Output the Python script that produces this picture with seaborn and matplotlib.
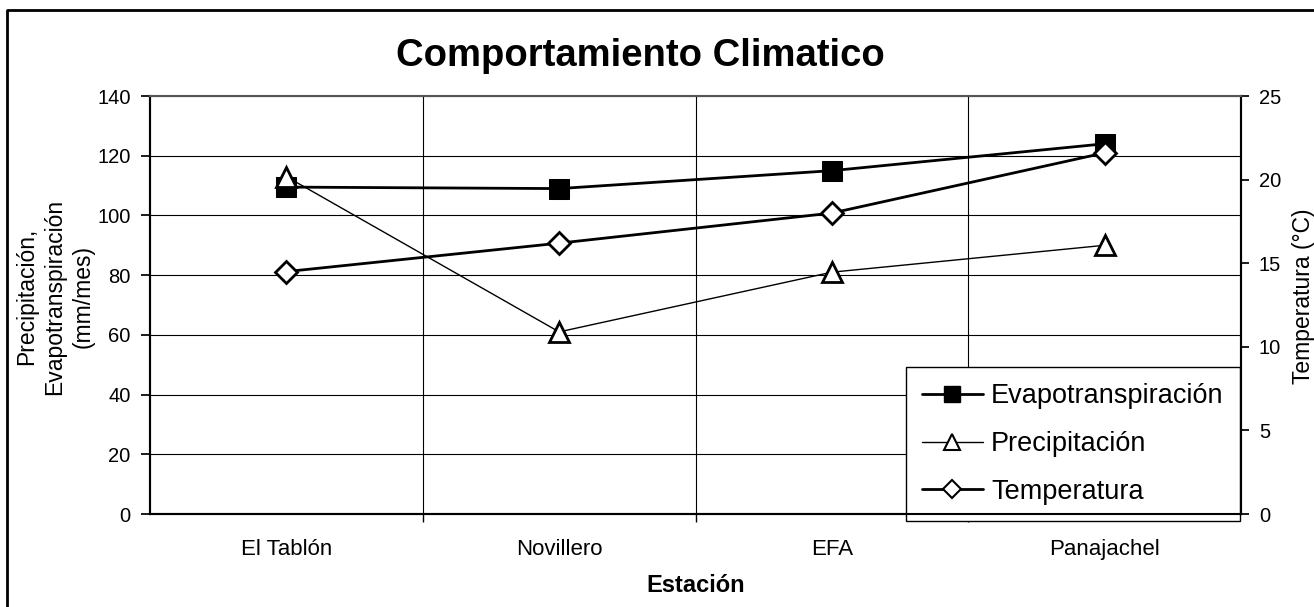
import pandas as pd
import matplotlib.pyplot as plt
import seaborn as sns
from matplotlib.lines import Line2D

# Datos
estaciones = ['El Tablón', 'Novillero', 'EFA', 'Panajachel']
evapotranspiracion = [109.5, 109, 115, 124]
precipitacion = [113, 61, 81, 90]
temperatura = [14.5, 16.2, 18.0, 21.6]

sns.set_theme(style='white')
plt.rcParams['font.family'] = ['Liberation Sans', 'DejaVu Sans']
plt.rcParams['text.color'] = 'black'
plt.rcParams['axes.labelcolor'] = 'black'
plt.rcParams['xtick.color'] = 'black'
plt.rcParams['ytick.color'] = 'black'

df = pd.DataFrame({'estacion': estaciones,
                   'evap': evapotranspiracion,
                   'prec': precipitacion,
                   'temp': temperatura})

fig = plt.figure(figsize=(13.14, 6.07), dpi=100)
ax = fig.add_axes([0.1142, 0.1532, 0.8302, 0.6886])
ax2 = ax.twinx()

sns.lineplot(data=df, x='estacion', y='evap', ax=ax, color='black', lw=2,
             marker='s', markersize=15, markerfacecolor='black',
             markeredgecolor='black', sort=False)
sns.lineplot(data=df, x='estacion', y='prec', ax=ax, color='black', lw=1,
             marker='^', markersize=15, markerfacecolor='white',
             markeredgecolor='black', markeredgewidth=2, sort=False)
sns.lineplot(data=df, x='estacion', y='temp', ax=ax2, color='black', lw=2,
             marker='D', markersize=11, markerfacecolor='white',
             markeredgecolor='black', markeredgewidth=2, sort=False)

ax.set_xlim(-0.5, 3.5)
ax.set_ylim(0, 140)
ax2.set_ylim(0, 25)
ax.set_yticks(range(0, 141, 20))
ax2.set_yticks(range(0, 26, 5))

# cuadricula estilo Excel
ax.set_xticks([0, 1, 2, 3])
ax.set_xticklabels(estaciones)
ax.set_xticks([0.5, 1.5, 2.5], minor=True)
ax.grid(True, axis='y', color='black', lw=0.8)
ax.grid(True, axis='x', which='minor', color='black', lw=0.8)
ax.grid(False, axis='x', which='major')
ax.tick_params(axis='x', which='major', length=0, labelsize=16, pad=18)
ax.tick_params(axis='x', which='minor', length=6, color='black', direction='out', bottom=True)
ax.tick_params(axis='y', length=6.5, color='black', direction='out', left=True, labelsize=14.5, pad=7.5)
ax2.tick_params(axis='y', length=6, color='black', direction='out', right=True, labelsize=14.5, pad=7)

for a in (ax, ax2):
    for s in a.spines.values():
        s.set_color('black')
        s.set_linewidth(1.5)
ax.spines['top'].set_visible(False)
ax2.spines['top'].set_color('#555555')
ax2.spines['top'].set_linewidth(1.5)

ax.set_xlabel('Estación', fontsize=17, fontweight='bold', labelpad=10)
ax.set_ylabel('Precipitación,\nEvapotranspiración\n(mm/mes)', fontsize=16.5,
              linespacing=1.3)
ax.yaxis.set_label_coords(-0.0505, 0.52)
ax2.set_ylabel('Temperatura (°C)', fontsize=16.5)
ax2.yaxis.set_label_coords(1.0467, 0.52)
fig.text(640 / 1314, 1 - 56 / 607, 'Comportamiento Climatico', fontsize=27.5,
         fontweight='bold', ha='center', va='center')

handles = [
    Line2D([], [], color='black', lw=2, marker='s', markersize=11, markerfacecolor='black'),
    Line2D([], [], color='black', lw=1, marker='^', markersize=12, markerfacecolor='white', markeredgewidth=1.5),
    Line2D([], [], color='black', lw=2, marker='D', markersize=9, markerfacecolor='white', markeredgewidth=1.5),
]
leg = ax.legend(handles, ['Evapotranspiración', 'Precipitación', 'Temperatura'],
                loc='lower right', bbox_to_anchor=(0.999, -0.0167), borderaxespad=0,
                fontsize=19.5, frameon=True, fancybox=False, shadow=False,
                edgecolor='black', framealpha=1, handlelength=2.26,
                handletextpad=0.3, borderpad=0.6, labelspacing=0.8)
leg.get_frame().set_linewidth(1)
leg.set_zorder(10)

# borde del area del grafico (solo se ven izquierda y arriba)
W, H = 1314, 607
fig.add_artist(Line2D([7 / W, 7 / W, 1.0], [0.0, 1 - 10 / H, 1 - 10 / H],
                      transform=fig.transFigure, color='black', lw=2))

fig.savefig('out.png', dpi=100)
